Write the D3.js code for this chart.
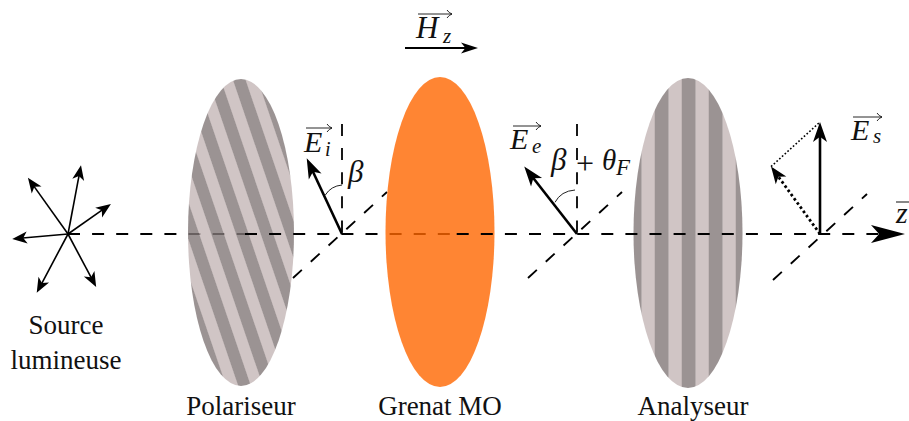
<!DOCTYPE html>
<html>
<head>
<meta charset="utf-8">
<style>
  html, body { margin: 0; padding: 0; background: #fff; }
  svg { display: block; }
  text { font-family: "Liberation Serif", serif; fill: #111; }
  .math { font-style: italic; }
</style>
<script src="https://cdn.jsdelivr.net/npm/d3@7"></script>
</head>
<body>
<svg id="chart" width="909" height="421"></svg>
<script>
// values
const stageNames = ["Polariseur", "Grenat MO", "Analyseur"];
const stageZ = [241, 440, 688];
const sourceZ = 68;
const sourceLabel = ["Source", "lumineuse"];
const probeZ = [342, 577, 820];

const rayAngles = [-35.5, 10.7, 55, -95, -152, 152];
const rayLengths = [69, 70, 52.4, 56, 66.6, 60];

const fieldAngles = [-25, -38, 0];
const fieldLengths = [83.5, 85.7, 112];
const analysedAngle = -36;
const analysedLength = 83.3;

const darkBands = [-8, -6, -4, -2, 0, 2, 4, 6, 8];
const lightBands = [-9, -7, -5, -3, -1, 1, 3, 5, 7, 9];

const x = d3.scaleLinear().domain([0, 909]).range([0, 909]);
const rad = d3.scaleLinear().domain([0, 180]).range([0, Math.PI]);

const svg = d3.select("#chart");
const axisY = 234;

const defs = svg.append("defs");

function arrowHead(g, tip, angle, size, width, notch) {
  const n = notch || 0.74;
  const p = d3.path();
  p.moveTo(0, 0);
  p.lineTo(-width / 2, size);
  p.lineTo(0, size * n);
  p.lineTo(width / 2, size);
  p.closePath();
  g.append("path")
    .attr("d", p.toString())
    .attr("fill", "#000")
    .attr("transform", `translate(${tip[0]},${tip[1]}) rotate(${angle})`);
}

function vector(g, from, angleDeg, length, opts) {
  const o = Object.assign({ w: 2.5, size: 15, width: 12, dash: null }, opts);
  const off = d3.pointRadial(rad(angleDeg), length);
  const tip = [from[0] + off[0], from[1] + off[1]];
  const inner = d3.pointRadial(rad(angleDeg), length - o.size * 0.7);
  g.append("line")
    .attr("x1", from[0]).attr("y1", from[1])
    .attr("x2", from[0] + inner[0]).attr("y2", from[1] + inner[1])
    .attr("stroke", "#000")
    .attr("stroke-width", o.w)
    .attr("stroke-dasharray", o.dash);
  arrowHead(g, tip, angleDeg, o.size, o.width);
  return tip;
}

function dashed(x1, y1, x2, y2, w) {
  return svg.append("line")
    .attr("x1", x1).attr("y1", y1)
    .attr("x2", x2).attr("y2", y2)
    .attr("stroke", "#000")
    .attr("stroke-width", w || 2)
    .attr("stroke-dasharray", "12 12.1");
}

function diagonal(cx, dx, dy) {
  dashed(cx - 49 + (dx || 0), axisY + 44 + (dy || 0), cx + 45 + (dx || 0), axisY - 42 + (dy || 0), 1.9);
}

function stripedLens(cx, top, bottom, rx, tilt, band, phase, id) {
  const cy = (top + bottom) / 2;
  const ry = (bottom - top) / 2;
  defs.append("clipPath").attr("id", id)
    .append("ellipse")
    .attr("cx", cx).attr("cy", cy).attr("rx", rx).attr("ry", ry);

  const g = svg.append("g").attr("clip-path", `url(#${id})`).attr("opacity", 0.8);
  const inner = g.append("g")
    .attr("transform", `translate(${cx},${cy}) rotate(${tilt})`);
  inner.selectAll("rect.light").data(lightBands).enter().append("rect")
    .attr("class", "light")
    .attr("x", d => d * band - band / 2 + phase)
    .attr("y", -220).attr("width", band + 0.3).attr("height", 440)
    .attr("fill", "#c5b7b7");
  inner.selectAll("rect.dark").data(darkBands).enter().append("rect")
    .attr("class", "dark")
    .attr("x", d => d * band - band / 2 + phase)
    .attr("y", -220).attr("width", band + 0.3).attr("height", 440)
    .attr("fill", "#837878");
}

// first run of the optical axis lies under the polariser
dashed(x(sourceZ), axisY, 245, axisY);

stripedLens(x(stageZ[0]), 79, 386, 53, -18.8, 11.7, 0.6, "clipPol");

// second run passes over the polariser and under the garnet
dashed(245, axisY, 456.7, axisY);
dashed(x(probeZ[0]), 124, x(probeZ[0]), axisY, 1.8);
diagonal(x(probeZ[0]));

svg.append("ellipse")
  .attr("cx", x(stageZ[1])).attr("cy", 232)
  .attr("rx", 54.5).attr("ry", 155)
  .attr("fill", "#ff6600")
  .attr("opacity", 0.8);

stripedLens(x(stageZ[2]), 78, 388, 54.5, 0, 13.5, 0.5, "clipAna");

// third run is on top of everything
dashed(456.7, axisY, 880, axisY);
dashed(x(probeZ[1]), 124, x(probeZ[1]), axisY, 1.8);
diagonal(x(probeZ[1]));
diagonal(x(probeZ[2]), 2, 2);

// z axis head
arrowHead(svg.append("g"), [905, axisY], 90, 34, 18, 0.76);

// source rays
const rays = svg.append("g");
rayAngles.forEach((a, i) => {
  vector(rays, [x(sourceZ), axisY], a, rayLengths[i], { w: 1.6, size: 15, width: 12 });
});

// field vectors
const fields = svg.append("g");
const fieldTips = probeZ.map((z, i) =>
  vector(fields, [x(z), axisY], fieldAngles[i], fieldLengths[i], { w: 2.6, size: 20, width: 14 })
);
const analysedTip = vector(fields, [x(probeZ[2]), axisY], analysedAngle, analysedLength,
  { w: 2.8, size: 17, width: 13, dash: "2.6 2.6" });
fields.append("line")
  .attr("x1", analysedTip[0]).attr("y1", analysedTip[1])
  .attr("x2", fieldTips[2][0]).attr("y2", fieldTips[2][1])
  .attr("stroke", "#000")
  .attr("stroke-width", 1.6)
  .attr("stroke-dasharray", "1.7 2");

// applied field arrow
arrowHead(svg.append("g"), [478, 48], 90, 17, 11);
svg.append("line")
  .attr("x1", 405).attr("y1", 48).attr("x2", 468).attr("y2", 48)
  .attr("stroke", "#000").attr("stroke-width", 2.2);

// angle arcs
function arc(d) {
  svg.append("path").attr("d", d).attr("fill", "none")
    .attr("stroke", "#222").attr("stroke-width", 1);
}
arc("M325.3,195 Q331,186 342,185");
arc("M555,202.3 Q561,191 575,190");

// labels
function label(str, px, py, size, cls, anchor) {
  return svg.append("text")
    .attr("x", px).attr("y", py)
    .attr("font-size", size)
    .attr("class", cls || null)
    .attr("text-anchor", anchor || "start")
    .text(str);
}

function overArrow(x1, x2, y) {
  const p = d3.path();
  p.moveTo(x1, y);
  p.lineTo(x2, y);
  p.moveTo(x2 - 5, y - 4);
  p.quadraticCurveTo(x2 - 3, y - 1, x2, y);
  p.quadraticCurveTo(x2 - 3, y + 1, x2 - 5, y + 4);
  svg.append("path").attr("d", p.toString())
    .attr("fill", "none").attr("stroke", "#111").attr("stroke-width", 0.9);
}

sourceLabel.forEach((s, i) => {
  label(s, 66, 334 + i * 35, 27, null, "middle");
});
const stageLabelX = [241, 440, 693];
const stageLabelY = [414.5, 414.5, 414.5];
stageNames.forEach((s, i) => {
  label(s, stageLabelX[i], stageLabelY[i], 27, null, "middle");
});

label("E", 304, 152, 30, "math");
label("i", 325, 156, 20, "math");
overArrow(306, 332, 128);
label("β", 348, 182, 31, "math");

label("E", 510, 149, 30, "math");
label("e", 532, 153, 21, "math");
overArrow(513, 541, 126);
label("β", 551, 170, 31, "math");
label("+", 576, 174, 32);
label("θ", 602, 170, 29, "math");
label("F", 616, 175, 23, "math");

label("H", 416, 38, 31, "math");
label("z", 443, 43, 21, "math");
overArrow(418, 452, 14);

label("E", 851, 140, 30, "math");
label("s", 873, 143, 21, "math");
overArrow(853, 882, 117);

label("z", 896, 223, 30, "math");
svg.append("line").attr("x1", 896).attr("y1", 202).attr("x2", 909).attr("y2", 202)
  .attr("stroke", "#111").attr("stroke-width", 1);
</script>
</body>
</html>
